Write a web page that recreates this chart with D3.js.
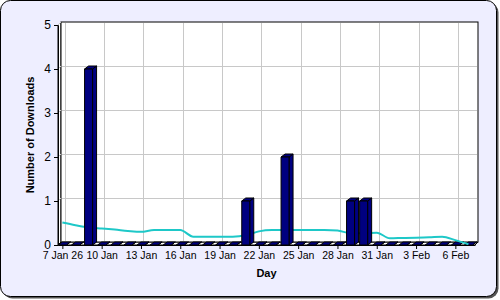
<!DOCTYPE html>
<html>
<head>
<meta charset="utf-8">
<script src="https://cdn.jsdelivr.net/npm/d3@7"></script>
<style>
  body { margin: 0; background: #fff; }
  text { font-family: "Liberation Sans", Arial, sans-serif; }
</style>
</head>
<body>
<svg id="chart" width="500" height="300"></svg>
<script>
// one entry per day, 7 Jan 2026 .. 7 Feb 2026
const start_day = "2026-01-07"
const end_day = "2026-02-08"
const downloads = [0, 0, 4, 0, 0, 0, 0, 0, 0, 0, 0, 0, 0, 0, 1, 0,
                   0, 2, 0, 0, 0, 0, 1, 1, 0, 0, 0, 0, 0, 0, 0, 0]
const trend = [0.51, 0.45, 0.40, 0.375, 0.35, 0.32, 0.30, 0.34, 0.34, 0.34, 0.19, 0.19, 0.19, 0.19, 0.22, 0.31,
               0.34, 0.34, 0.34, 0.34, 0.34, 0.33, 0.265, 0.265, 0.28, 0.152, 0.16, 0.166, 0.175, 0.19, 0.11, 0.016]
const tick_days = ["2026-01-07", "2026-01-10", "2026-01-13", "2026-01-16", "2026-01-19", "2026-01-22",
                   "2026-01-25", "2026-01-28", "2026-01-31", "2026-02-03", "2026-02-06"]
const tick_labels = ["7 Jan 26", "10 Jan", "13 Jan", "16 Jan", "19 Jan", "22 Jan",
                     "25 Jan", "28 Jan", "31 Jan", "3 Feb", "6 Feb"]
const y_ticks = [0, 1, 2, 3, 4, 5]

const parse = d3.utcParse("%Y-%m-%d")
const days = d3.utcDay.range(parse(start_day), parse(end_day))
const data = days.map((d, i) => ({date: d, value: downloads[i], avg: trend[i]}))

const bg_color = "#eeeeff"
const bar_color = "#000080"
const line_color = "#1ec8c8"
const grid_color = "#c8c8c8"

const plot_l = 58, plot_r = 475, plot_t = 25, plot_b = 245
const wall_dx = 3, wall_dy = -3     // back wall offset
const bar_w = 8, bar_dx = 4, bar_dy = 3

const svg = d3.select("#chart")

const x = d3.scaleUtc()
    .domain([new Date(Date.UTC(2026, 0, 6, 16)), new Date(Date.UTC(2026, 1, 7, 12))])
    .range([plot_l, plot_r])
const y = d3.scaleLinear().domain([0, 5]).range([plot_b, plot_t])

// frame
svg.append("rect")
    .attr("x", 2.5).attr("y", 2.5).attr("width", 496).attr("height", 296)
    .attr("rx", 10).attr("fill", "#555")
svg.append("rect")
    .attr("x", 0.5).attr("y", 0.5).attr("width", 496).attr("height", 296)
    .attr("rx", 10).attr("fill", bg_color).attr("stroke", "#000")

// walls
const walls = svg.append("g").attr("fill", "#fff").attr("stroke", "#000")
walls.append("polygon")
    .attr("points", [[plot_l, plot_t], [plot_l + wall_dx, plot_t + wall_dy], [plot_l + wall_dx, plot_b + wall_dy], [plot_l, plot_b]].join(" "))
walls.append("polygon")
    .attr("points", [[plot_l, plot_b], [plot_l + wall_dx, plot_b + wall_dy], [plot_r + wall_dx, plot_b + wall_dy], [plot_r, plot_b]].join(" "))
walls.append("rect")
    .attr("x", plot_l + wall_dx).attr("y", plot_t + wall_dy)
    .attr("width", plot_r - plot_l).attr("height", plot_b - plot_t)

// grid
const grid = svg.append("g").attr("stroke", grid_color).attr("shape-rendering", "crispEdges")
grid.selectAll("line.h")
    .data(y_ticks.slice(1, -1))
    .join("line")
    .attr("class", "h")
    .attr("x1", plot_l + wall_dx + 1).attr("x2", plot_r + wall_dx - 1)
    .attr("y1", d => y(d) + wall_dy).attr("y2", d => y(d) + wall_dy)
grid.selectAll("line.v")
    .data(tick_days.map(parse))
    .join("line")
    .attr("class", "v")
    .attr("x1", d => x(d) + wall_dx).attr("x2", d => x(d) + wall_dx)
    .attr("y1", plot_t + wall_dy + 1).attr("y2", plot_b + wall_dy - 1)
svg.append("g").attr("stroke", grid_color)
    .selectAll("line")
    .data(y_ticks.slice(1))
    .join("line")
    .attr("x1", plot_l).attr("y1", d => y(d))
    .attr("x2", plot_l + wall_dx).attr("y2", d => y(d) + wall_dy)

function bar_path(d) {
    const x0 = x(d.date) - bar_w / 2
    const y0 = y(d.value)
    return {
        front: [[x0, y0], [x0 + bar_w, y0], [x0 + bar_w, plot_b], [x0, plot_b]],
        top: [[x0, y0], [x0 + bar_dx, y0 - bar_dy], [x0 + bar_w + bar_dx, y0 - bar_dy], [x0 + bar_w, y0]],
        side: [[x0 + bar_w, y0], [x0 + bar_w + bar_dx, y0 - bar_dy], [x0 + bar_w + bar_dx, plot_b - bar_dy], [x0 + bar_w, plot_b]]
    }
}

function draw_bars(g, rows) {
    const b = g.selectAll("g").data(rows).join("g")
        .attr("fill", bar_color).attr("stroke", "#000").attr("stroke-width", 1)
    b.append("polygon").attr("points", d => bar_path(d).side.join(" "))
    b.append("polygon").attr("points", d => bar_path(d).top.join(" "))
    b.filter(d => d.value > 0)
        .append("polygon").attr("points", d => bar_path(d).front.join(" "))
}

// zero bars form the floor stripe
draw_bars(svg.append("g"), data.filter(d => d.value === 0))

// trend line
svg.append("path")
    .datum(data)
    .attr("fill", "none")
    .attr("stroke", line_color)
    .attr("stroke-width", 2)
    .attr("d", d3.line().x(d => x(d.date)).y(d => y(d.avg)).curve(d3.curveMonotoneX))

draw_bars(svg.append("g"), data.filter(d => d.value > 0))

// axes
const y_axis = svg.append("g")
    .attr("transform", `translate(${plot_l},0)`)
    .call(d3.axisLeft(y).tickValues(y_ticks).tickFormat(d3.format("d")).tickSize(4).tickSizeOuter(0).tickPadding(3))
y_axis.selectAll("text").attr("font-size", 12).attr("fill", "#000").attr("font-family", null)
y_axis.select(".domain").attr("stroke", "#000")

const x_axis = svg.append("g")
    .attr("transform", `translate(0,${plot_b})`)
    .call(d3.axisBottom(x).tickValues(tick_days.map(parse)).tickFormat((d, i) => tick_labels[i])
        .tickSize(4).tickSizeOuter(0).tickPadding(3))
x_axis.selectAll("text").attr("font-size", 10.5).attr("fill", "#000").attr("font-family", null)

svg.append("text")
    .attr("x", (plot_l + plot_r) / 2)
    .attr("y", 277)
    .attr("text-anchor", "middle")
    .attr("font-size", 11)
    .attr("font-weight", "bold")
    .text("Day")

svg.append("text")
    .attr("transform", `translate(34,${(plot_t + plot_b) / 2}) rotate(-90)`)
    .attr("text-anchor", "middle")
    .attr("font-size", 11)
    .attr("font-weight", "bold")
    .text("Number of Downloads")
</script>
</body>
</html>
